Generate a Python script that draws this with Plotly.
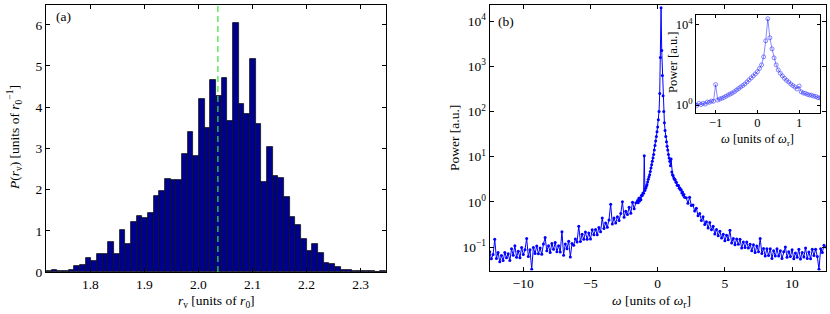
import numpy as np
import plotly.graph_objects as go

# ---------------- Panel (a): histogram of r_v ----------------
bin_start = 1.718
bin_stop = 2.347
n_bins = 60
hist_density = [0.03, 0.04, 0.02, 0.02, 0.06, 0.14, 0.17, 0.35, 0.27, 0.44,
                0.44, 0.72, 0.44, 1.03, 0.69, 1.22, 1.36, 1.31, 1.44, 1.85,
                1.96, 2.26, 2.23, 2.24, 2.86, 3.40, 2.81, 4.19, 3.49, 4.65,
                4.28, 4.72, 3.67, 6.04, 4.08, 3.84, 5.17, 3.59, 2.18, 3.04,
                2.33, 2.28, 1.81, 1.34, 1.13, 0.81, 0.52, 0.69, 0.45, 0.22,
                0.19, 0.13, 0.04, 0.04, 0.02, 0.02, 0.02, 0.015, 0.01, 0.03]
mean_rv = 2.036
hist_xticks = [1.8, 1.9, 2.0, 2.1, 2.2, 2.3]
hist_xticklabels = ["1.8", "1.9", "2.0", "2.1", "2.2", "2.3"]
hist_yticks = [0, 1, 2, 3, 4, 5, 6]

# ---------------- Panel (b): power spectrum ----------------
omega_left = np.linspace(-12.5, -1.625, 88)
omega_mid = np.linspace(-1.5, 2.0, 71)
omega_right = np.linspace(2.125, 12.5, 84)

power_left = [0.079, 0.055, 0.068, 0.148, 0.056, 0.076, 0.047, 0.065, 0.050, 0.076,
              0.058, 0.071, 0.050, 0.091, 0.066, 0.107, 0.059, 0.081, 0.058, 0.098,
              0.068, 0.087, 0.155, 0.062, 0.087, 0.032, 0.098, 0.072, 0.105, 0.071,
              0.095, 0.069, 0.117, 0.162, 0.083, 0.107, 0.076, 0.120, 0.089, 0.126,
              0.079, 0.107, 0.078, 0.219, 0.066, 0.117, 0.091, 0.135, 0.060, 0.120,
              0.110, 0.151, 0.129, 0.288, 0.132, 0.191, 0.148, 0.214, 0.148, 0.204,
              0.151, 0.240, 0.186, 0.245, 0.186, 0.269, 0.219, 0.437, 0.257, 0.339,
              0.275, 0.398, 0.891, 0.324, 0.437, 0.339, 0.468, 0.389, 0.550, 1.0,
              0.457, 0.617, 0.525, 0.759, 0.562, 0.977, 0.708, 0.955]
power_mid = [1.07, 0.955, 1.20, 1.05, 1.23, 1.12, 1.41, 1.38, 1.58, 1.55,
             10.5, 1.78, 2.0, 2.19, 2.40, 2.75, 3.16, 3.55, 3.98, 4.68,
             5.62, 6.61, 7.94, 9.33, 11.2, 14.1, 17.8, 22.4, 28.2, 35.5,
             45.7, 66.1, 100.0, 251.0, 1585.0, 19950.0, 2239.0, 631.0, 224.0, 100.0,
             56.2, 38.0, 28.2, 21.4, 17.0, 14.1, 11.2, 9.33, 7.94, 6.31,
             8.91, 4.57, 3.98, 3.80, 3.39, 3.16, 3.09, 2.75, 2.69, 2.34,
             2.29, 2.29, 2.0, 2.04, 1.82, 1.86, 1.58, 1.66, 1.41, 1.45, 1.26]
power_right = [1.23, 0.933, 1.26, 0.832, 0.851, 0.631, 0.724, 0.490, 0.550, 0.389,
               0.468, 0.316, 0.363, 0.263, 0.347, 0.240, 0.288, 0.195, 0.245, 0.178,
               0.224, 0.158, 0.191, 0.138, 0.182, 0.145, 0.234, 0.123, 0.155, 0.112,
               0.151, 0.115, 0.148, 0.095, 0.129, 0.098, 0.129, 0.095, 0.115, 0.083,
               0.112, 0.076, 0.105, 0.079, 0.155, 0.072, 0.093, 0.063, 0.091, 0.065,
               0.091, 0.056, 0.083, 0.063, 0.091, 0.063, 0.083, 0.056, 0.079, 0.100,
               0.059, 0.079, 0.062, 0.087, 0.055, 0.074, 0.059, 0.089, 0.054, 0.076,
               0.060, 0.095, 0.056, 0.078, 0.055, 0.089, 0.065, 0.089, 0.062, 0.032,
               0.091, 0.076, 0.110, 0.100]

spec_xticks = [-10, -5, 0, 5, 10]
spec_yticks = [0.1, 1, 10, 100, 1000, 10000]
spec_yticklabels = ["10<sup>−1</sup>", "10<sup>0</sup>", "10<sup>1</sup>",
                    "10<sup>2</sup>", "10<sup>3</sup>", "10<sup>4</sup>"]
inset_xticks = [-1, 0, 1]
inset_yticks = [1, 10000]
inset_yticklabels = ["10<sup>0</sup>", "10<sup>4</sup>"]

omega = np.concatenate([omega_left, omega_mid, omega_right])
power = np.array(power_left + power_mid + power_right)

# ---------------- Figure ----------------
W, H = 830, 314
FONT = "Liberation Serif"


def px_x(v):
    return v / W


def px_y(v):
    return 1 - v / H


edges = np.linspace(bin_start, bin_stop, n_bins + 1)
centers = 0.5 * (edges[:-1] + edges[1:])
bin_w = edges[1] - edges[0]

fig = go.Figure()
fig.add_trace(go.Bar(x=centers, y=hist_density, width=bin_w,
                     marker=dict(color="#00008f", line=dict(color="#111111", width=0.8)),
                     xaxis="x", yaxis="y", showlegend=False))
fig.add_trace(go.Scatter(x=omega, y=power, mode="lines+markers",
                         line=dict(color="#0000ff", width=1),
                         marker=dict(color="#0000ff", size=3),
                         xaxis="x2", yaxis="y2", showlegend=False))
fig.add_trace(go.Scatter(x=omega, y=power, mode="lines+markers",
                         line=dict(color="rgba(40,40,255,0.55)", width=1),
                         marker=dict(color="rgba(40,40,255,0.55)", size=4, symbol="circle-open"),
                         xaxis="x3", yaxis="y3", showlegend=False))

axis_common = dict(showline=True, linecolor="black", linewidth=1, mirror="ticks",
                   ticks="inside", ticklen=4, tickcolor="black", showgrid=False,
                   zeroline=False, automargin=False,
                   tickfont=dict(family=FONT, size=13.5, color="black"))
inset_common = dict(axis_common)
inset_common["tickfont"] = dict(family=FONT, size=12.5, color="black")
inset_common["ticklen"] = 3

fig.update_layout(
    width=W, height=H, template="none",
    margin=dict(l=0, r=0, t=0, b=0),
    paper_bgcolor="white", plot_bgcolor="white",
    bargap=0,
    font=dict(family=FONT, size=13.5, color="black"),
    xaxis=dict(domain=[px_x(46), px_x(386)], range=[bin_start, bin_stop], anchor="y",
               tickvals=hist_xticks, ticktext=hist_xticklabels, **axis_common),
    yaxis=dict(domain=[px_y(272), px_y(5)], range=[0, 6.48], anchor="x",
               tickvals=hist_yticks, **axis_common),
    xaxis2=dict(domain=[px_x(489.7), px_x(825.7)], range=[-12.5, 12.5], anchor="y2",
                tickvals=spec_xticks, **axis_common),
    yaxis2=dict(domain=[px_y(270.5), px_y(5)], type="log", range=[-1.52, 4.36], anchor="x2",
                tickvals=spec_yticks, ticktext=spec_yticklabels, **axis_common),
    xaxis3=dict(domain=[px_x(696), px_x(820)], range=[-1.47, 1.5], anchor="y3",
                tickvals=inset_xticks, ticklabelstandoff=-2, **inset_common),
    yaxis3=dict(domain=[px_y(113.3), px_y(14.7)], type="log", range=[-0.41, 4.5], anchor="x3",
                tickvals=inset_yticks, ticktext=inset_yticklabels, **inset_common),
)

fig.add_shape(type="line", xref="x", yref="y domain", x0=mean_rv, x1=mean_rv, y0=0, y1=1,
              line=dict(color="#33e833", width=1.2, dash="6px,4px"))

ann = dict(showarrow=False, xref="paper", yref="paper", xanchor="center", yanchor="middle",
           font=dict(family=FONT, size=13.5, color="black"))
ann_small = dict(ann)
ann_small["font"] = dict(family=FONT, size=12.5, color="black")
fig.add_annotation(text="(a)", x=px_x(63), y=px_y(17), **ann)
fig.add_annotation(text="(b)", x=px_x(506), y=px_y(22), **ann)
fig.add_annotation(text="<i>P</i>(<i>r</i><sub>v</sub>) [units of <i>r</i><sub>0</sub><sup>−1</sup>]",
                   x=px_x(14), y=px_y(138), textangle=-90, **ann)
fig.add_annotation(text="<i>r</i><sub>v</sub> [units of <i>r</i><sub>0</sub>]",
                   x=px_x(216), y=px_y(301), **ann)
fig.add_annotation(text="Power [a.u.]", x=px_x(454), y=px_y(138), textangle=-90, **ann)
fig.add_annotation(text="<i>ω</i> [units of <i>ω</i><sub>r</sub>]",
                   x=px_x(651), y=px_y(301), **ann)
fig.add_annotation(text="Power [a.u.]", x=px_x(673), y=px_y(63), textangle=-90, **ann_small)
fig.add_annotation(text="<i>ω</i> [units of <i>ω</i><sub>r</sub>]",
                   x=px_x(757), y=px_y(140), **ann_small)

fig.write_html("out.html", config={"displayModeBar": False},
               post_script="document.body.style.margin='0';document.body.style.overflow='hidden';")
